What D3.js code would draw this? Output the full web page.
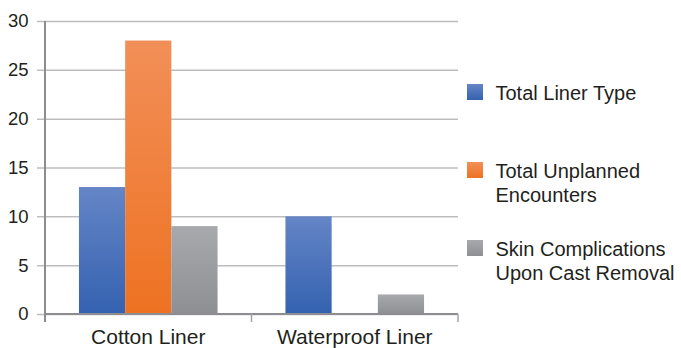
<!DOCTYPE html>
<html>
<head>
<meta charset="utf-8">
<script src="https://cdn.jsdelivr.net/npm/d3@7"></script>
<style>
  body { margin: 0; background: #fff; }
  text { font-family: "Liberation Sans", Arial, sans-serif; fill: #231f20; }
</style>
</head>
<body>
<div id="chart"></div>
<script>
// chart values
const categories = ["Cotton Liner", "Waterproof Liner"];
const seriesNames = ["Total Liner Type", "Total Unplanned Encounters", "Skin Complications Upon Cast Removal"];
const legendLines = [["Total Liner Type"], ["Total Unplanned", "Encounters"], ["Skin Complications", "Upon Cast Removal"]];
const totalLinerType = [13, 10];
const totalUnplanned = [28, 0];
const skinComplications = [9, 2];
const yTicks = [0, 5, 10, 15, 20, 25, 30];

// top/bottom colours of each bar gradient
const colorTop = ["#6585c6", "#f28f58", "#a8a9ac"];
const colorBottom = ["#3462b0", "#ee7222", "#8e8f92"];

const width = 681, height = 348;
const margin = {top: 21, right: 223, bottom: 34, left: 45};

const svg = d3.select("#chart").append("svg")
    .attr("width", width)
    .attr("height", height);

// gradients, one per series
const defs = svg.append("defs");
seriesNames.forEach((s, i) => {
  const g = defs.append("linearGradient")
      .attr("id", "grad" + i)
      .attr("x1", 0).attr("y1", 0).attr("x2", 0).attr("y2", 1);
  g.append("stop").attr("offset", "0%").attr("stop-color", colorTop[i]);
  g.append("stop").attr("offset", "100%").attr("stop-color", colorBottom[i]);
});

const x = d3.scaleBand()
    .domain(categories)
    .range([margin.left, width - margin.right]);

const xInner = d3.scaleBand()
    .domain(seriesNames)
    .range([0, x.bandwidth()])
    .paddingOuter(0.735)
    .paddingInner(0);

const y = d3.scaleLinear()
    .domain([0, 30])
    .range([height - margin.bottom, margin.top]);

// gridlines with small outward ticks
svg.append("g")
    .attr("transform", `translate(${margin.left},0)`)
    .call(d3.axisLeft(y).tickValues(yTicks).tickSize(-(width - margin.right - margin.left)).tickPadding(16.5))
    .call(g => g.select(".domain").remove())
    .call(g => g.selectAll(".tick line").attr("stroke", "#bdbdbf").attr("stroke-width", 1.5).attr("x1", -8))
    .call(g => g.selectAll(".tick text")
        .style("font-family", '"Liberation Sans", Arial, sans-serif')
        .style("font-size", "18.5px").attr("fill", "#231f20"));

// the bars
const data = categories.map((c, i) => ({
  cat: c,
  values: [totalLinerType[i], totalUnplanned[i], skinComplications[i]]
}));

svg.append("g")
  .selectAll("g")
  .data(data)
  .join("g")
    .attr("transform", d => `translate(${x(d.cat)},0)`)
  .selectAll("rect")
  .data(d => d.values.map((v, i) => ({key: seriesNames[i], idx: i, value: v})))
  .join("rect")
    .attr("x", d => xInner(d.key))
    .attr("y", d => y(d.value))
    .attr("width", xInner.bandwidth())
    .attr("height", d => y(0) - y(d.value))
    .attr("fill", d => `url(#grad${d.idx})`);

// y axis line
svg.append("line")
    .attr("x1", margin.left).attr("x2", margin.left)
    .attr("y1", y(30)).attr("y2", y(0) + 8)
    .attr("stroke", "#8d8d91").attr("stroke-width", 2);

// x axis with category dividers
const xAxis = svg.append("g")
    .attr("transform", `translate(0,${y(0)})`);
xAxis.append("line")
    .attr("x1", margin.left).attr("x2", width - margin.right)
    .attr("stroke", "#8d8d91").attr("stroke-width", 2);
xAxis.selectAll(".div")
  .data(categories)
  .join("line")
    .attr("x1", d => x(d) + x.bandwidth())
    .attr("x2", d => x(d) + x.bandwidth())
    .attr("y1", 0).attr("y2", 8)
    .attr("stroke", "#a3a3a6").attr("stroke-width", 1.5);
xAxis.selectAll(".lab")
  .data(categories)
  .join("text")
    .attr("x", d => x(d) + x.bandwidth() / 2)
    .attr("y", 29.5)
    .attr("text-anchor", "middle")
    .style("font-size", "21px")
    .text(d => d);

// legend
const legendBase = [100, 178, 256];
const legend = svg.append("g")
  .selectAll("g")
  .data(seriesNames)
  .join("g")
    .attr("transform", (d, i) => `translate(467,${legendBase[i]})`);

legend.append("rect")
    .attr("x", 0).attr("y", -16)
    .attr("width", 16).attr("height", 16)
    .attr("fill", (d, i) => `url(#grad${i})`);

legend.append("text")
    .style("font-size", "20px")
  .selectAll("tspan")
  .data((d, i) => legendLines[i])
  .join("tspan")
    .attr("x", 28.5)
    .attr("y", (d, j) => j * 24)
    .text(d => d);
</script>
</body>
</html>
